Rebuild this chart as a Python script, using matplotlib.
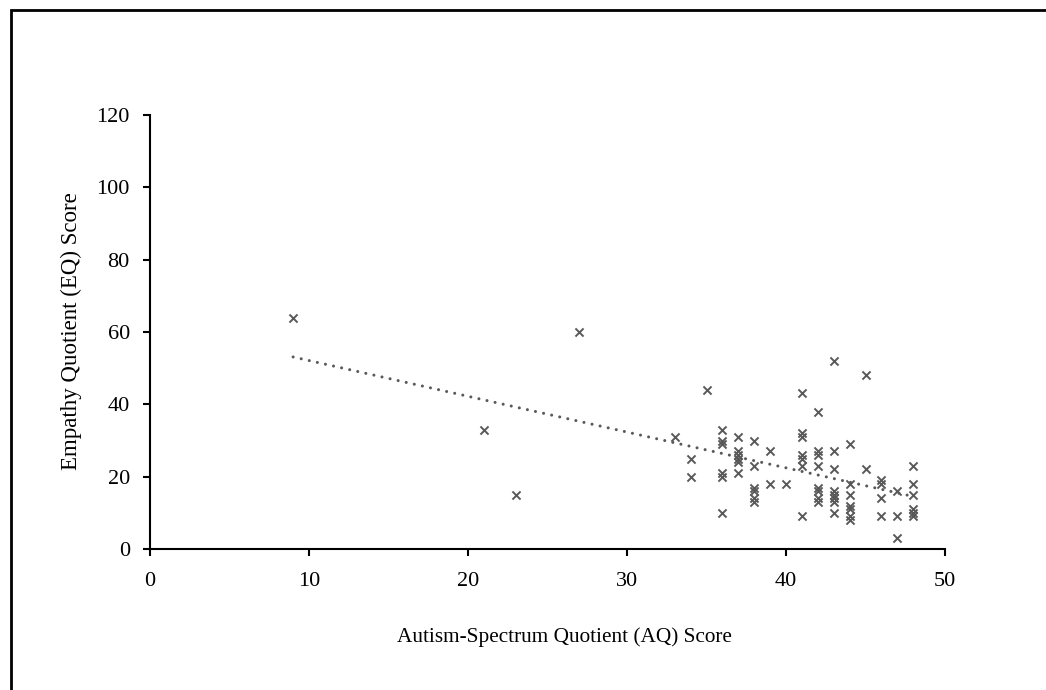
import numpy as np
import matplotlib
matplotlib.use("Agg")
import matplotlib.pyplot as plt
from matplotlib.patches import Rectangle

plt.rcParams['font.family'] = ['Liberation Serif', 'DejaVu Serif']

aq = [9, 21, 23, 27, 33, 35, 34, 34,
      36, 36, 36, 36, 36, 36,
      37, 37, 37, 37, 37, 37,
      38, 38, 38, 38, 38, 38,
      39, 39, 40,
      41, 41, 41, 41, 41, 41, 41,
      42, 42, 42, 42, 42, 42, 42, 42,
      43, 43, 43, 43, 43, 43, 43, 43,
      44, 44, 44, 44, 44, 44, 44,
      45, 45,
      46, 46, 46, 46,
      47, 47, 47,
      48, 48, 48, 48, 48, 48]
eq = [64, 33, 15, 60, 31, 44, 25, 20,
      33, 30, 29, 21, 20, 10,
      31, 27, 26, 25, 24, 21,
      30, 23, 17, 16, 14, 13,
      27, 18, 18,
      43, 32, 31, 26, 25, 23, 9,
      38, 27, 26, 23, 17, 16, 14, 13,
      52, 27, 22, 16, 15, 14, 13, 10,
      29, 18, 15, 12, 11, 9, 8,
      48, 22,
      19, 18, 14, 9,
      16, 9, 3,
      23, 18, 15, 11, 10, 9]

x_ticks = [0, 10, 20, 30, 40, 50]
y_ticks = [0, 20, 40, 60, 80, 100, 120]

W, H = 1046, 690
fig = plt.figure(figsize=(W / 100, H / 100), dpi=100)
ax = fig.add_axes([150 / W, 1 - 549 / H, (945 - 150) / W, (549 - 115) / H])

col = '#595959'
ax.scatter(aq, eq, marker='x', s=34, color=col, linewidths=1.4, zorder=3)

slope, intercept = np.polyfit(aq, eq, 1)
xs = np.array([min(aq), max(aq)])
ax.plot(xs, slope * xs + intercept, linestyle=(0, (0.01, 2.7)), color=col,
        linewidth=2.2, dash_capstyle='round', zorder=2)

ax.set_xlim(0, 50)
ax.set_ylim(0, 120)
ax.set_xticks(x_ticks)
ax.set_yticks(y_ticks)
for s in ['top', 'right']:
    ax.spines[s].set_visible(False)
for s in ['left', 'bottom']:
    ax.spines[s].set_linewidth(1.5)
    ax.spines[s].set_color('black')
ax.tick_params(direction='out', length=5, width=1.5, labelsize=16, pad=9.5)
ax.tick_params(axis='x', pad=11.5)

fig.text(564 / W, 1 - 637 / H, 'Autism-Spectrum Quotient (AQ) Score',
         ha='center', va='center', fontsize=15.3)
fig.text(71 / W, 1 - 331 / H, 'Empathy Quotient (EQ) Score',
         ha='center', va='center', rotation=90, fontsize=16.5)

fig.patches.append(Rectangle((11 / W, -0.1), 1.2, 1 - 10 / H + 0.1,
                             transform=fig.transFigure, fill=False,
                             edgecolor='black', linewidth=2))

fig.savefig('out.png', dpi=100)
